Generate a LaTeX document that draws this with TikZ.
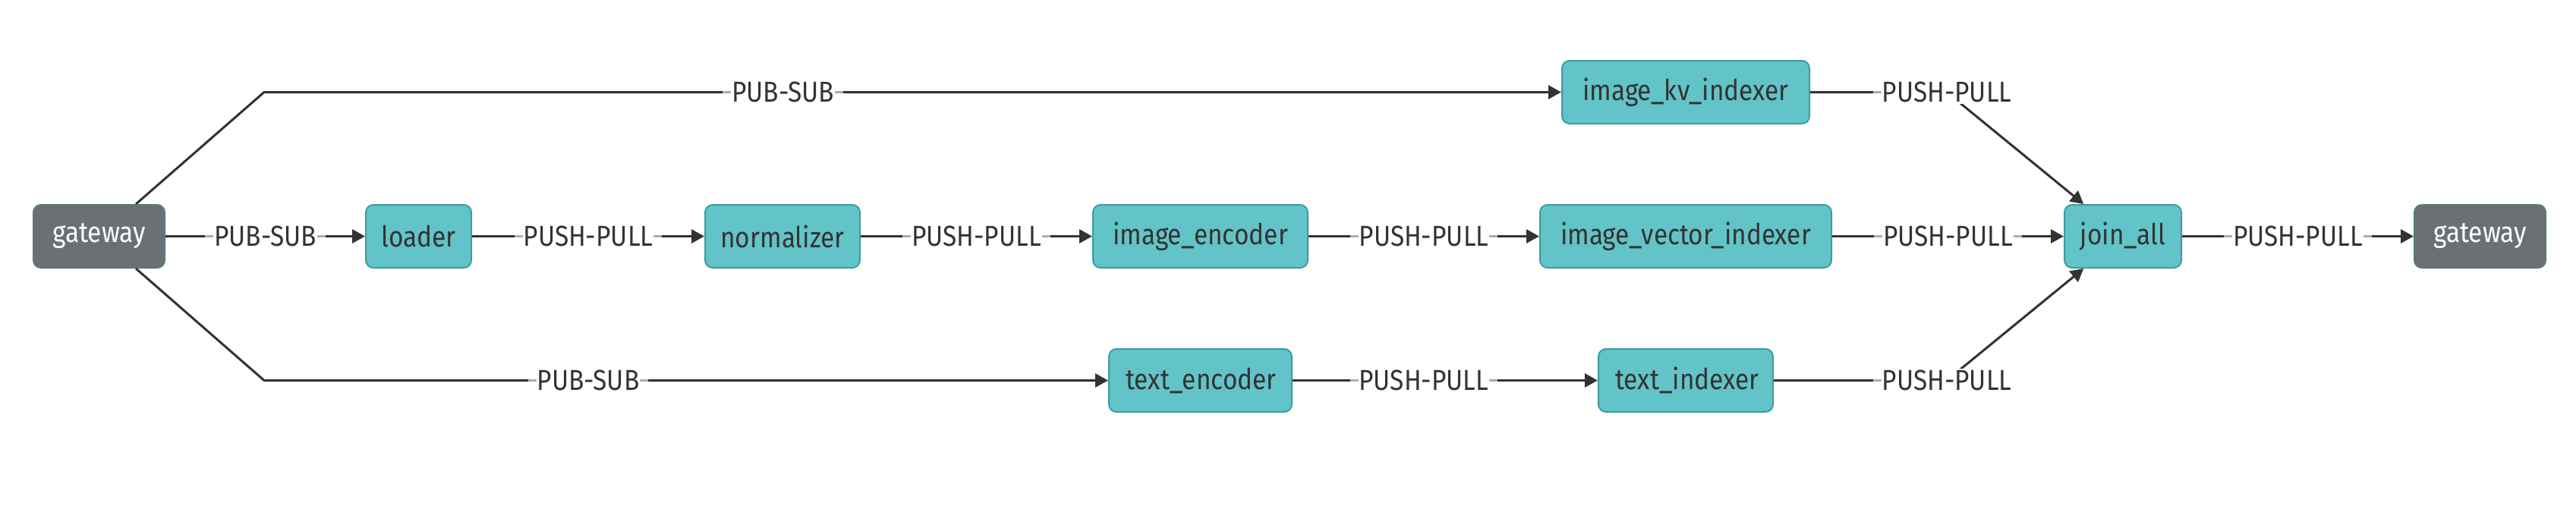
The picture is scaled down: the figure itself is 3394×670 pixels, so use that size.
\documentclass[tikz,border=0pt]{standalone}
\usepackage{fontspec}
\setmainfont{Fira Sans}[FakeStretch=0.88]
\usetikzlibrary{arrows.meta}
\definecolor{tealfill}{HTML}{62C4C8}
\definecolor{tealborder}{HTML}{3E9C9E}
\definecolor{grayfill}{HTML}{6C7075}
\definecolor{grayborder}{HTML}{587A7B}
\definecolor{inkcol}{HTML}{333333}
\begin{document}
\begin{tikzpicture}[x=0.5pt,y=-0.5pt,
  every node/.style={font=\fontsize{19pt}{23pt}\selectfont},
  basebox/.style={draw=tealborder, line width=1pt, rounded corners=5pt,
    minimum height=41.5pt, inner sep=0pt},
  tn/.style={basebox, fill=tealfill, text=inkcol},
  gn/.style={basebox, fill=grayfill, draw=grayborder, text=white},
  lblbg/.style={fill=white, fill opacity=0.6, text opacity=0,
    inner xsep=6pt, inner ysep=1pt, draw=none},
  lbl/.style={fill=white, text=inkcol, inner xsep=0.5pt, inner ysep=1pt, draw=none},
  edge/.style={draw=inkcol, line width=1.5pt,
    -{Triangle[length=8.5pt,width=9pt]}},
  cliptext/.style={anchor=west, inner sep=0pt, text=inkcol}
]
\useasboundingbox (0,0) rectangle (3394,670);

% nodes
\node[gn, minimum width=86.5pt] (gw1) at (130.5,311.5) {gateway};
\node[tn, minimum width=69.5pt] (loader) at (551.5,311.5) {loader};
\node[tn, minimum width=102pt] (norm) at (1031,311.5) {normalizer};
\node[tn, minimum width=141.5pt] (ienc) at (1581.5,311.5) {image\_encoder};
\node[tn, minimum width=192pt] (ivi) at (2221,311.5) {image\_vector\_indexer};
\node[tn, minimum width=77pt] (join) at (2797,311.5) {join\_all};
\node[gn, minimum width=86.5pt] (gw2) at (3267.5,311.5) {gateway};
\node[tn, minimum width=163pt] (kv) at (2221,121.5) {image\_kv\_indexer};
\node[tn, minimum width=120.5pt] (tenc) at (1581.5,501.5) {};
\node[tn, minimum width=115pt] (tidx) at (2221,501.5) {};
\begin{scope}
  \clip (1481,462) rectangle (1682,541);
  \node[cliptext] (tenctext) at (1483,501.5) {text\_encoder};
\end{scope}
\begin{scope}
  \clip (2126,462) rectangle (2316,541);
  \node[cliptext] (tidxtext) at (2128,501.5) {text\_indexer};
\end{scope}

% bend points
\coordinate (b1) at (348,121.5);
\coordinate (b2) at (348,501.5);
\coordinate (c1) at (2565,121.5);
\coordinate (c2) at (2565,501.5);

% edges
\draw[edge] (gw1) -- (b1) -- node[lblbg, pos=0.4] {PUB-SUB} node[lbl, pos=0.4] {PUB-SUB} (kv);
\draw[edge] (gw1) -- node[lblbg] {PUB-SUB} node[lbl] {PUB-SUB} (loader);
\draw[edge] (gw1) -- (b2) -- node[lblbg, pos=0.384] {PUB-SUB} node[lbl, pos=0.384] {PUB-SUB} (tenc);
\draw[edge] (loader) -- node[lblbg] {PUSH-PULL} node[lbl] {PUSH-PULL} (norm);
\draw[edge] (norm) -- node[lblbg] {PUSH-PULL} node[lbl] {PUSH-PULL} (ienc);
\draw[edge] (ienc) -- node[lblbg] {PUSH-PULL} node[lbl] {PUSH-PULL} (ivi);
\draw[edge] (tenc) -- node[lblbg, pos=0.43] {PUSH-PULL} node[lbl, pos=0.43] {PUSH-PULL} (tidx);
\draw[edge] (kv) -- (c1) -- (join);
\node[lblbg] (l1b) at (c1) {PUSH-PULL};
\node[lbl] (l1) at (c1) {PUSH-PULL};
\draw[edge] (ivi) -- node[lblbg] {PUSH-PULL} node[lbl] {PUSH-PULL} (join);
\draw[edge] (tidx) -- (c2) -- (join);
\node[lblbg] (l2b) at (c2) {PUSH-PULL};
\node[lbl] (l2) at (c2) {PUSH-PULL};
\draw[edge] (join) -- node[lblbg] {PUSH-PULL} node[lbl] {PUSH-PULL} (gw2);
\end{tikzpicture}
\end{document}
